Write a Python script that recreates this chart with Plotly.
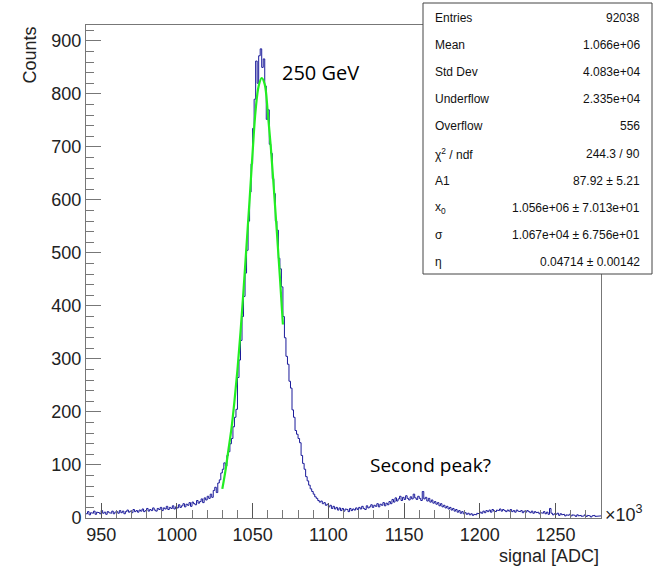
import plotly.graph_objects as go

# histogram: bin lower edges 940..1279 step 1 (x in units of 10^3 ADC)
bin_width = 1
x_start = 940
counts = [
    8, 12, 6, 10, 9, 13, 7, 11, 10, 8, 14, 9, 11, 7, 12, 10, 9, 13, 8, 11,
    12, 9, 14, 10, 13, 8, 12, 15, 11, 13, 10, 16, 12, 14, 11, 15, 13, 17, 12, 14,
    18, 13, 16, 14, 19, 15, 13, 18, 16, 20, 14, 19, 17, 22, 16, 20, 18, 23, 17, 21,
    19, 25, 20, 23, 27, 21, 26, 24, 29, 22, 30, 27, 25, 33, 28, 31, 36, 29, 38, 34,
    41, 37, 45, 39, 52, 58, 48, 66, 72, 85, 92, 104, 98, 118, 125, 140, 150, 172, 190, 205,
    265, 298, 335, 380, 418, 462, 505, 560, 615, 668, 735, 790, 862, 820, 872, 885, 850, 866, 815, 752,
    770, 705, 688, 640, 612, 560, 543, 490, 470, 436, 380, 340, 305, 290, 258, 245, 204, 190, 165, 158,
    150, 142, 118, 103, 92, 78, 70, 62, 55, 50, 45, 40, 37, 33, 30, 32, 27, 29, 24, 26,
    21, 24, 18, 22, 17, 20, 15, 19, 14, 18, 13, 17, 16, 12, 18, 14, 17, 15, 19, 16,
    20, 17, 22, 18, 16, 23, 19, 21, 25, 20, 24, 22, 27, 21, 26, 24, 29, 23, 28, 25,
    31, 27, 35, 30, 38, 32, 36, 41, 33, 39, 35, 42, 37, 34, 40, 36, 45, 38, 35, 41,
    37, 33, 50, 36, 39, 32, 37, 30, 34, 28, 31, 26, 29, 23, 27, 21, 24, 19, 22, 17,
    20, 15, 18, 13, 16, 11, 14, 9, 12, 8, 10, 7, 9, 6, 8, 5, 7, 6, 9, 8,
    11, 9, 13, 10, 14, 12, 15, 11, 16, 13, 12, 15, 14, 17, 13, 16, 14, 12, 15, 13,
    16, 12, 14, 11, 15, 13, 12, 14, 10, 13, 11, 14, 12, 10, 13, 9, 12, 10, 11, 8,
    10, 9, 12, 8, 11, 7, 18, 9, 6, 8, 7, 9, 5, 8, 6, 7, 4, 6, 5, 7,
    4, 6, 5, 3, 6, 4, 5, 3, 4, 6, 3, 5, 4, 2, 4, 5, 3, 4, 3, 4,
]

# fit curve
fit_x = [1030, 1032, 1034, 1036, 1038, 1040, 1042, 1044, 1046, 1048, 1050,
         1052, 1054, 1056, 1058, 1060, 1062, 1064, 1066, 1068, 1070]
fit_y = [55, 88, 128, 168, 220, 280, 350, 430, 515, 600, 690,
         770, 815, 830, 818, 765, 700, 622, 540, 455, 365]

stats_labels = ["Entries", "Mean", "Std Dev", "Underflow", "Overflow",
                "\u03c7<sup>2</sup> / ndf", "A1", "x<sub>0</sub>", "\u03c3", "\u03b7"]
stats_values = ["92038", "1.066e+06", "4.083e+04", "2.335e+04", "556",
                "244.3 / 90", "87.92 \u00b1 5.21", "1.056e+06 \u00b1 7.013e+01",
                "1.067e+04 \u00b1 6.756e+01", "0.04714 \u00b1 0.00142"]

W, H = 662, 566
L, R, T, B = 86, 601, 25, 518


def px(x):
    return (x - L) / (R - L)


def py(y):
    return (B - y) / (B - T)


# step outline from bin edges
xs, ys = [], []
for i, c in enumerate(counts):
    x0 = x_start + i * bin_width
    xs += [x0, x0 + bin_width]
    ys += [c, c]

fig = go.Figure()
fig.add_trace(go.Scatter(x=xs, y=ys, mode="lines",
                         line=dict(color="#1a1a9a", width=1),
                         hoverinfo="skip", showlegend=False))
fig.add_trace(go.Scatter(x=fit_x, y=fit_y, mode="lines", line_shape="spline",
                         line=dict(color="#22ee22", width=2.2),
                         showlegend=False))

fig.update_layout(
    width=W, height=H,
    margin=dict(l=L, r=W - R, t=T, b=H - B),
    paper_bgcolor="white", plot_bgcolor="white",
    font=dict(family="Arial, Liberation Sans", color="#222"),
)
fig.update_xaxes(range=[940, 1280], tickvals=[950, 1000, 1050, 1100, 1150, 1200, 1250],
                 ticks="inside", ticklen=15, tickcolor="#555", tickwidth=1,
                 minor=dict(dtick=10, tick0=940, ticks="inside", ticklen=8, tickcolor="#777"),
                 showline=True, linecolor="#777", linewidth=1, mirror=True,
                 showgrid=False, zeroline=False, tickfont=dict(size=18))
fig.update_yaxes(range=[0, 930], tickvals=[0, 100, 200, 300, 400, 500, 600, 700, 800, 900],
                 ticks="inside", ticklen=15, tickcolor="#777", tickwidth=1,
                 minor=dict(dtick=20, ticks="inside", ticklen=8, tickcolor="#777"),
                 showline=True, linecolor="#777", linewidth=1, mirror=True,
                 showgrid=False, zeroline=False, tickfont=dict(size=18))

ann = []
ann.append(dict(x=1068, y=840, xref="x", yref="y", text="250 GeV", showarrow=False,
                xanchor="left", yanchor="middle",
                font=dict(family="Open Sans", size=20, color="black")))
ann.append(dict(x=1126, y=100, xref="x", yref="y", text="Second peak?", showarrow=False,
                xanchor="left", yanchor="middle",
                font=dict(family="Open Sans", size=19, color="black")))
ann.append(dict(x=px(603), y=py(513), xref="paper", yref="paper", text="\u00d710<sup>3</sup>",
                showarrow=False, xanchor="left", yanchor="middle",
                font=dict(size=18, color="#222")))
ann.append(dict(x=px(601), y=py(544), xref="paper", yref="paper", text="signal [ADC]",
                showarrow=False, xanchor="right", yanchor="top",
                font=dict(size=18, color="#222")))
ann.append(dict(x=px(29), y=py(25), xref="paper", yref="paper", text="Counts",
                showarrow=False, xanchor="center", yanchor="top", textangle=-90,
                font=dict(size=18, color="#222")))

# stats box
bx0, by0, bx1, by1 = 423, 3, 652, 274
fig.add_shape(type="rect", xref="paper", yref="paper",
              x0=px(bx0), x1=px(bx1), y0=py(by1), y1=py(by0),
              line=dict(color="#444", width=1), fillcolor="white", layer="above")
for i, (lab, val) in enumerate(zip(stats_labels, stats_values)):
    yy = 18 + i * 27.1
    ann.append(dict(x=px(433), y=py(yy), xref="paper", yref="paper", text=lab,
                    showarrow=False, xanchor="left", yanchor="middle",
                    font=dict(size=12, color="#111")))
    ann.append(dict(x=px(642), y=py(yy), xref="paper", yref="paper", text=val,
                    showarrow=False, xanchor="right", yanchor="middle",
                    font=dict(size=12, color="#111")))
fig.update_layout(annotations=ann)

fig.write_html("out.html")
